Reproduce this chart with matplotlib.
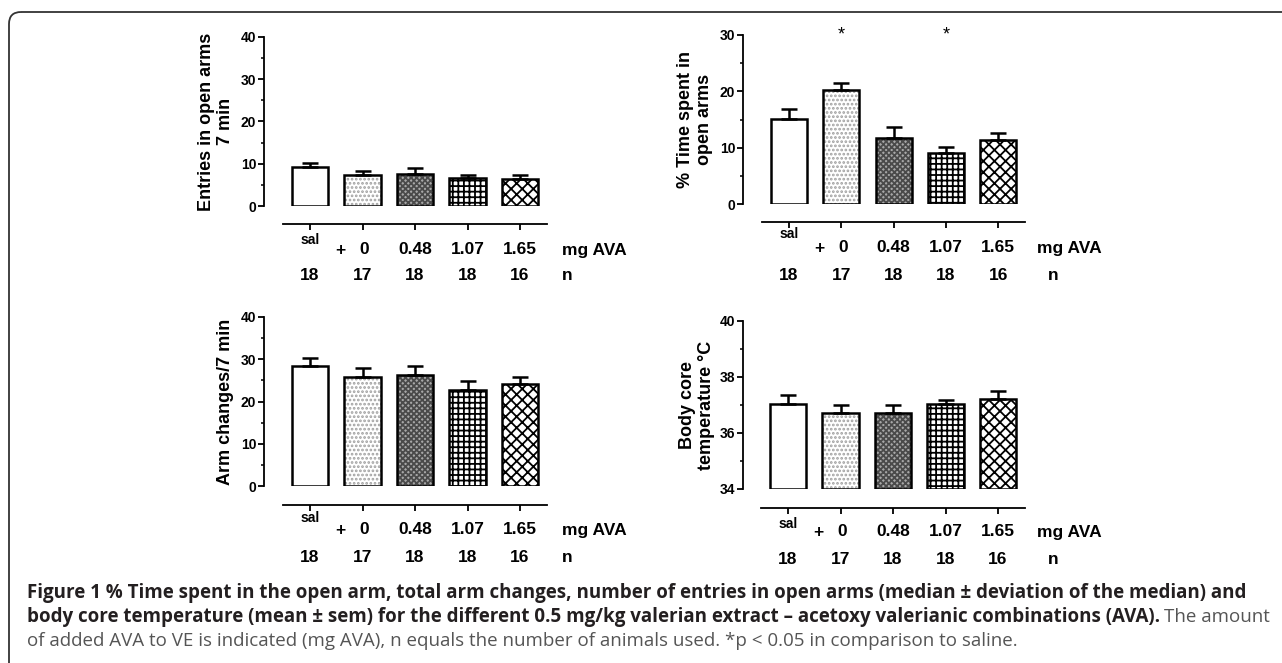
import matplotlib
matplotlib.use("Agg")
import matplotlib.pyplot as plt
from matplotlib import transforms
from matplotlib.patches import FancyBboxPatch
from matplotlib.ticker import MultipleLocator

# ---------------- data ----------------
categories = ["sal", "0", "0.48", "1.07", "1.65"]
n_animals = [18, 17, 18, 18, 16]

entries_vals = [9.2, 7.3, 7.6, 6.6, 6.5]
entries_err = [1.0, 0.9, 1.3, 0.8, 0.9]

time_vals = [15.1, 20.2, 11.8, 9.0, 11.4]
time_err = [1.8, 1.3, 1.8, 1.1, 1.2]
time_sig = [False, True, False, True, False]

arm_vals = [28.4, 25.8, 26.2, 22.7, 24.1]
arm_err = [1.9, 2.2, 2.2, 2.1, 1.7]

temp_vals = [37.05, 36.72, 36.70, 37.05, 37.21]
temp_err = [0.30, 0.27, 0.29, 0.13, 0.28]

# ---------------- styles ----------------
W, H = 1282, 663
plt.rcParams["font.family"] = ["Liberation Sans", "DejaVu Sans"]
plt.rcParams["hatch.linewidth"] = 1.3

fills = [
    dict(facecolor="white", hatch=None, hc="black"),
    dict(facecolor="white", hatch="....", hc="#a0a0a0"),
    dict(facecolor="#a8a8a8", hatch="xxxxxx", hc="#4a4a4a"),
    dict(facecolor="white", hatch="+++", hc="black"),
    dict(facecolor="white", hatch="xxx", hc="black"),
]

fig = plt.figure(figsize=(W / 100, H / 100), dpi=100)

# background axes in pixel units (for border and caption)
bg = fig.add_axes([0, 0, 1, 1], zorder=-5)
bg.set_xlim(0, W)
bg.set_ylim(H, 0)
bg.axis("off")
bg.add_patch(FancyBboxPatch((9, 12), W + 60, H + 60,
                            boxstyle="round,pad=0,rounding_size=12",
                            facecolor="none", edgecolor="#333333", lw=1.3,
                            clip_on=True))


def panel(vals, errs, xaxis_px, bar0_px, sp, ytop_px, ybot_px, ylim, yticks_major,
          yminor, line_y, sal_y, row_y, n_y, mg_x, n_x, ylabel, ylab_x, base=0.0,
          sig=None, star_y=None):
    xl = (xaxis_px - bar0_px) / sp
    xr = 4.51
    right_px = bar0_px + xr * sp
    ax = fig.add_axes([xaxis_px / W, 1 - ybot_px / H, (right_px - xaxis_px) / W,
                       (ybot_px - ytop_px) / H])
    ax.set_xlim(xl, xr)
    ax.set_ylim(*ylim)
    ax.patch.set_alpha(0)
    xs = list(range(len(vals)))
    heights = [v - base for v in vals]
    for i, x in enumerate(xs):
        f = fills[i]
        ax.bar(x, heights[i], bottom=base, width=0.69, color=f["facecolor"],
               hatch=f["hatch"], edgecolor=f["hc"], linewidth=0, zorder=2)
    ax.bar(xs, heights, bottom=base, width=0.69, fill=False, edgecolor="black",
           linewidth=1.8, zorder=3)
    ax.errorbar(xs, vals, yerr=[[0] * len(vals), errs], fmt="none", ecolor="black",
                elinewidth=1.8, capsize=6, capthick=1.8, zorder=4)
    for s in ["top", "right"]:
        ax.spines[s].set_visible(False)
    ax.spines["left"].set_linewidth(1.3)
    ax.spines["left"].set_bounds(*ylim)
    ax.spines["bottom"].set_position(("outward", (line_y - ybot_px) * 0.72))
    ax.spines["bottom"].set_bounds(-0.51, 4.51)
    ax.spines["bottom"].set_linewidth(1.3)
    ax.set_yticks(yticks_major)
    ax.yaxis.set_minor_locator(MultipleLocator(yminor))
    ax.tick_params(axis="y", which="major", length=4, width=1.3, pad=1.5,
                   labelsize=10)
    ax.tick_params(axis="y", which="minor", length=2.5, width=1.1)
    for lab in ax.get_yticklabels():
        lab.set_fontweight("bold")
    ax.set_xticks(xs)
    ax.set_xticklabels([])
    ax.tick_params(axis="x", length=4.3, width=1.3, direction="out")

    tr = transforms.blended_transform_factory(ax.transData, bg.transData)
    ax.text(0, sal_y, categories[0], transform=tr, ha="center", va="center",
            fontsize=10, fontweight="bold")
    ax.text(0.58, row_y, "+", transform=tr, ha="center", va="center",
            fontsize=12.5, fontweight="bold")
    ax.text(1.03, row_y, categories[1], transform=tr, ha="center", va="center",
            fontsize=12.5, fontweight="bold")
    for i in range(2, len(categories)):
        ax.text(i, row_y, categories[i], transform=tr, ha="center", va="center",
                fontsize=12.5, fontweight="bold")
    for i, nv in enumerate(n_animals):
        ax.text(i, n_y, str(nv), transform=tr, ha="center", va="center",
                fontsize=12.5, fontweight="bold")
    bg.text(mg_x, row_y, "mg AVA", ha="left", va="center", fontsize=12.5,
            fontweight="bold")
    bg.text(n_x, n_y, "n", ha="left", va="center", fontsize=12.5,
            fontweight="bold")
    bg.text(ylab_x, (ytop_px + ybot_px) / 2, ylabel, rotation=90, ha="center",
            va="center", multialignment="center", fontsize=13,
            fontweight="bold", linespacing=1.15)
    if sig is not None:
        for i, s in enumerate(sig):
            if s:
                ax.text(i, star_y, "*", transform=tr, ha="center", va="center",
                        fontsize=13)
    return ax


panel(entries_vals, entries_err, 264, 310, 52.5, 37, 206, (0, 40),
      [0, 10, 20, 30, 40], 5, 224, 240, 250, 275, 562, 562,
      "Entries in open arms\n7 min", 216)
panel(time_vals, time_err, 743, 789, 52.3, 35, 204, (0, 30),
      [0, 10, 20, 30], 5, 222, 234, 248, 275, 1037, 1048,
      "% Time spent in\nopen arms", 695, sig=time_sig, star_y=35)
panel(arm_vals, arm_err, 264, 310, 52.5, 317, 486, (0, 40),
      [0, 10, 20, 30, 40], 5, 505, 518, 530, 557, 562, 562,
      "Arm changes/7 min", 226)
panel(temp_vals, temp_err, 743, 788, 52.5, 321, 489, (34, 40),
      [34, 36, 38, 40], 1, 508, 524, 532, 560, 1037, 1048,
      "Body core\ntemperature \u00b0C", 697, base=34.0)

# ---------------- caption ----------------
cap_fam = ["Liberation Sans Narrow", "Open Sans", "DejaVu Sans"]
line1 = ("Figure 1 % Time spent in the open arm, total arm changes, number of entries "
         "in open arms (median \u00b1 deviation of the median) and")
line2b = ("body core temperature (mean\u00a0\u00b1\u00a0sem) for the different 0.5 mg/kg "
          "valerian extract \u2013 acetoxy valerianic combinations (AVA).")
line2r = "The amount"
line3 = ("of added AVA to VE is indicated (mg AVA), n equals the number of animals "
         "used. *p < 0.05 in comparison to saline.")

x0 = 27
t1 = bg.text(x0, 598, line1, fontsize=11, fontweight="bold", family=cap_fam,
             color="#231f20", va="baseline")
t2 = bg.text(x0, 622, line2b, fontsize=11, fontweight="bold", family=cap_fam,
             color="#231f20", va="baseline")
t2r = bg.text(x0, 622, line2r, fontsize=11, family=cap_fam, color="#555555",
              va="baseline")
t3 = bg.text(x0, 646, line3, fontsize=11, family=cap_fam, color="#555555",
             va="baseline")
fig.canvas.draw()
r = fig.canvas.get_renderer()
w1 = t1.get_window_extent(r).width
w2 = t2.get_window_extent(r).width + t2r.get_window_extent(r).width + 11 * 0.3
fs = min(11 * (1251 - x0) / w1, 11 * (1268 - x0) / w2)
for t in (t1, t2, t2r, t3):
    t.set_fontsize(fs)
fig.canvas.draw()
e2 = t2.get_window_extent(r)
t2r.set_x(e2.x1 + fs * 0.3)

fig.savefig("out.png", dpi=100)
